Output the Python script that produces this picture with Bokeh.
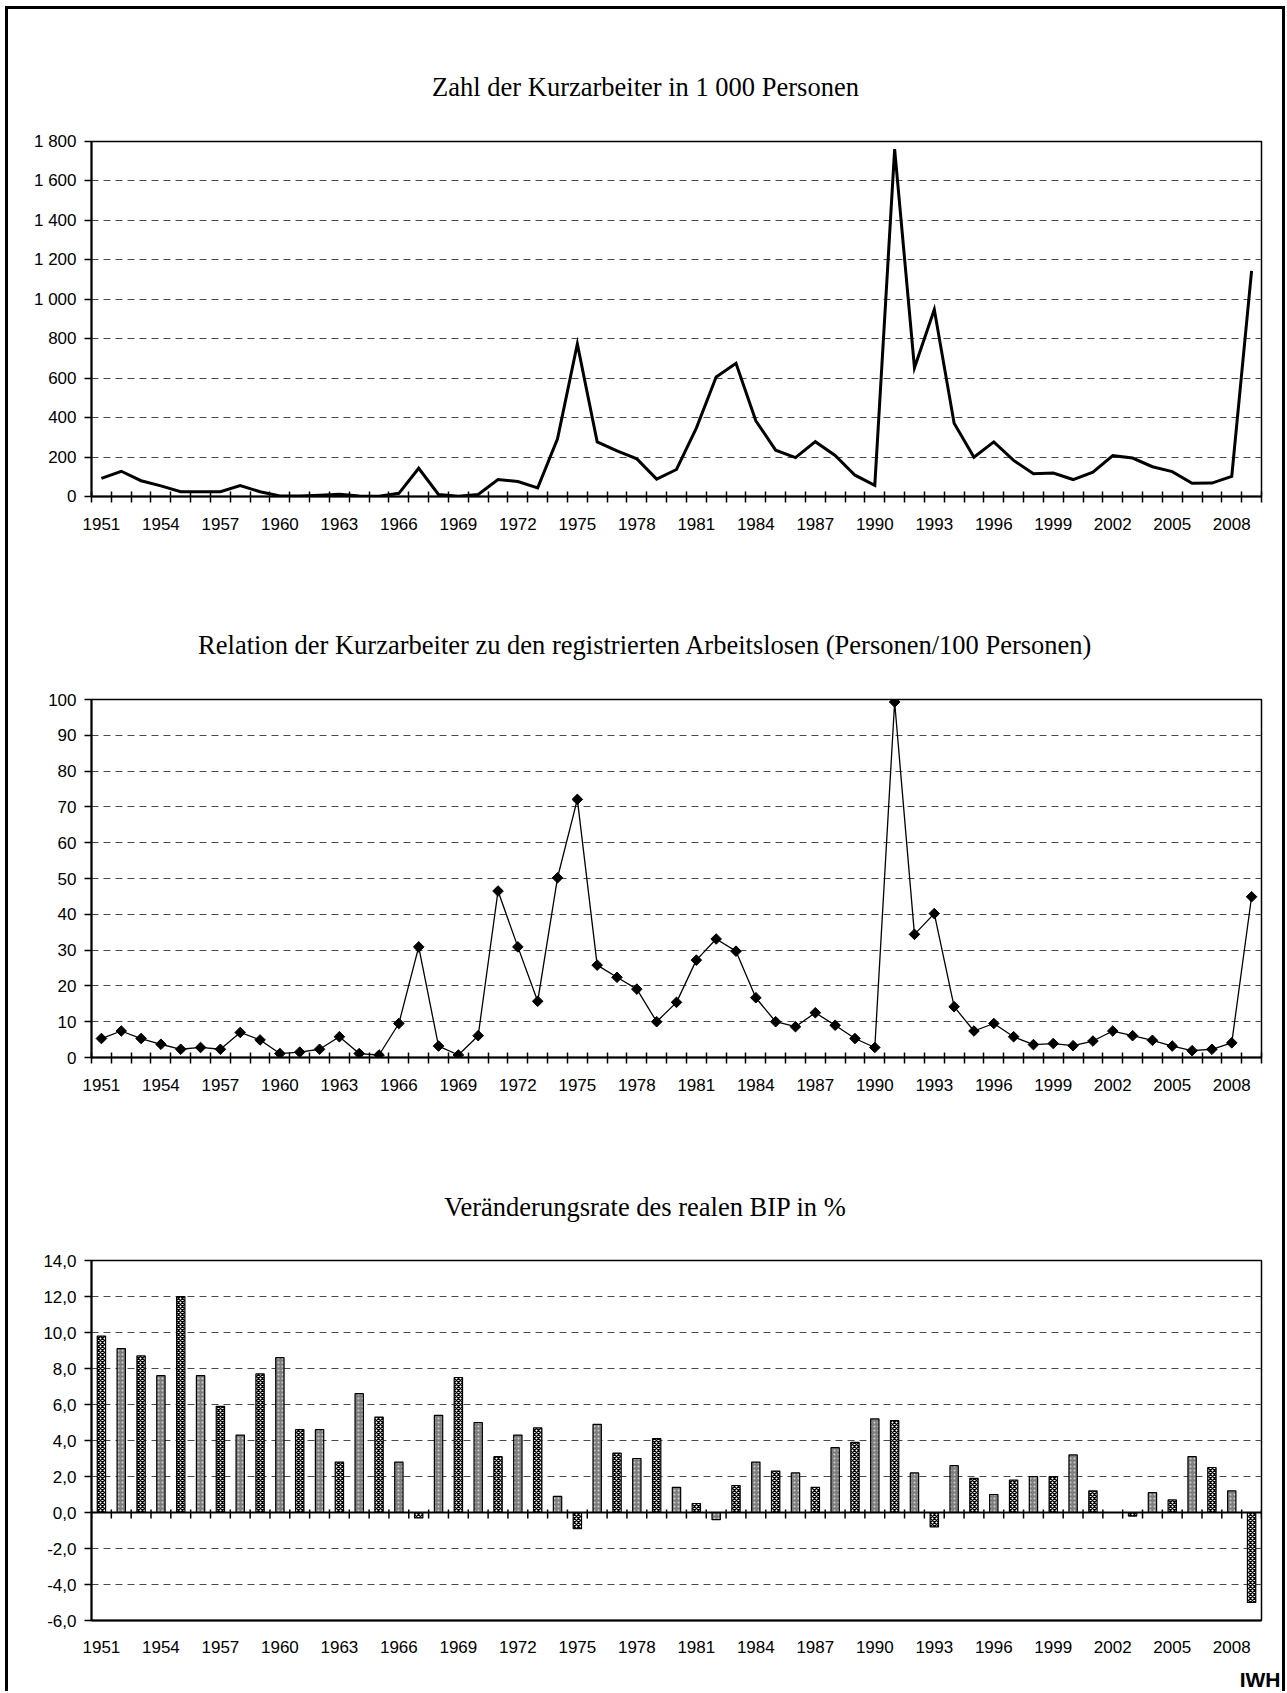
import math
from bokeh.plotting import figure
from bokeh.layouts import column
from bokeh.models import Range1d, FixedTicker, Span, Title
from bokeh.core.properties import value
from bokeh.embed import file_html
from bokeh.resources import INLINE

# ---------------- data ----------------
years = list(range(1951, 2010))

kurzarbeiter = [92, 128, 80, 54, 24, 24, 24, 55, 24, 3,
                3, 6, 11, 3, 1, 16, 143, 10, 1, 10,
                86, 76, 44, 292, 773, 277, 231, 191, 88, 137,
                347, 606, 675, 384, 235, 197, 278, 208, 108, 56,
                1761, 653, 948, 372, 199, 277, 183, 115, 119, 86,
                123, 207, 195, 151, 126, 67, 68, 102, 1144]

relation = [5.3, 7.4, 5.3, 3.7, 2.3, 2.8, 2.3, 7.0, 4.9, 1.1,
            1.5, 2.3, 5.8, 1.1, 0.7, 9.5, 30.9, 3.2, 0.7, 6.1,
            46.5, 30.9, 15.7, 50.2, 72.1, 25.8, 22.4, 19.1, 10.0, 15.4,
            27.2, 33.1, 29.7, 16.7, 10.0, 8.6, 12.5, 9.0, 5.3, 2.8,
            99.3, 34.4, 40.2, 14.2, 7.4, 9.5, 5.8, 3.6, 3.9, 3.3,
            4.6, 7.4, 6.1, 4.8, 3.2, 1.9, 2.3, 4.1, 44.9]

bip_growth = [9.8, 9.1, 8.7, 7.6, 12.0, 7.6, 5.9, 4.3, 7.7, 8.6,
              4.6, 4.6, 2.8, 6.6, 5.3, 2.8, -0.3, 5.4, 7.5, 5.0,
              3.1, 4.3, 4.7, 0.9, -0.9, 4.9, 3.3, 3.0, 4.1, 1.4,
              0.5, -0.4, 1.5, 2.8, 2.3, 2.2, 1.4, 3.6, 3.9, 5.2,
              5.1, 2.2, -0.8, 2.6, 1.9, 1.0, 1.8, 2.0, 2.0, 3.2,
              1.2, 0.0, -0.2, 1.1, 0.7, 3.1, 2.5, 1.2, -5.0]

x_tick_years = [1951, 1954, 1957, 1960, 1963, 1966, 1969, 1972, 1975, 1978,
                1981, 1984, 1987, 1990, 1993, 1996, 1999, 2002, 2005, 2008]
x_tick_labels = ["1951", "1954", "1957", "1960", "1963", "1966", "1969", "1972", "1975", "1978",
                 "1981", "1984", "1987", "1990", "1993", "1996", "1999", "2002", "2005", "2008"]

y1_ticks = [0, 200, 400, 600, 800, 1000, 1200, 1400, 1600, 1800]
y1_labels = ["0", "200", "400", "600", "800", "1 000", "1 200", "1 400", "1 600", "1 800"]
y2_ticks = [0, 10, 20, 30, 40, 50, 60, 70, 80, 90, 100]
y2_labels = ["0", "10", "20", "30", "40", "50", "60", "70", "80", "90", "100"]
y3_ticks = [-6, -4, -2, 0, 2, 4, 6, 8, 10, 12, 14]
y3_labels = ["-6,0", "-4,0", "-2,0", "0,0", "2,0", "4,0", "6,0", "8,0", "10,0", "12,0", "14,0"]

title1 = "Zahl der Kurzarbeiter in 1 000 Personen"
title2 = "Relation der Kurzarbeiter zu den registrierten Arbeitslosen (Personen/100 Personen)"
title3 = "Veränderungsrate des realen BIP in %"
source_text = "IWH"

# ---------------- layout (page pixels) ----------------
PX0 = 8           # page x of the figures' left edge (inside the border)
PY0 = 9           # page y of the first figure's top edge
W = 1274
FRAME_L, FRAME_R = 91, 1261
X0, X1 = years[0] - 0.5, years[-1] + 0.5
SANS = "Liberation Sans"
SERIF = "Liberation Serif"
TICK_SIZE = "17px"
TITLE_SIZE = "26.5px"


def text_strip(top, h, txt, page_x, page_y):
    """A blank strip (frame aligned with the charts) that only carries a centred title."""
    s = figure(width=W, height=h, x_range=Range1d(FRAME_L, FRAME_R), y_range=Range1d(0, h),
               output_backend="svg", toolbar_location=None,
               x_axis_type=None, y_axis_type=None,
               min_border_left=FRAME_L - PX0, min_border_right=PX0 + W - FRAME_R,
               min_border_top=0, min_border_bottom=0)
    s.outline_line_color = None
    s.background_fill_color = "white"
    s.border_fill_color = "white"
    s.text(x=[page_x], y=[top + h - page_y], text=[txt],
           text_align="center", text_baseline="middle",
           text_font=value(SERIF), text_font_size=value(TITLE_SIZE),
           text_color="black")
    return s


def make_fig(top, h, ftop, fbot, ymin, ymax, yticks, ylabels,
             crossing_xticks=True, label_standoff=15):
    p = figure(width=W, height=h, x_range=Range1d(X0, X1), y_range=Range1d(ymin, ymax),
               output_backend="svg", toolbar_location=None,
               min_border_left=FRAME_L - PX0, min_border_right=PX0 + W - FRAME_R,
               min_border_top=ftop - top, min_border_bottom=top + h - fbot)
    p.background_fill_color = "white"
    p.border_fill_color = "white"
    p.outline_line_color = "black"
    p.outline_line_width = 1.5

    yax = p.yaxis[0]
    yax.ticker = FixedTicker(ticks=yticks)
    yax.major_label_overrides = {t: l for t, l in zip(yticks, ylabels)}
    yax.major_label_text_font = SANS
    yax.major_label_text_font_size = TICK_SIZE
    yax.major_label_text_color = "black"
    yax.major_tick_in = 0
    yax.major_tick_out = 7
    yax.major_tick_line_width = 1.5
    yax.major_tick_line_color = "black"
    yax.minor_tick_line_color = None
    yax.axis_line_width = 2
    yax.axis_line_color = "black"
    yax.major_label_standoff = 8

    bounds = [y - 0.5 for y in years] + [years[-1] + 0.5]
    xax = p.xaxis[0]
    xax.ticker = FixedTicker(ticks=x_tick_years, minor_ticks=bounds if crossing_xticks else [])
    xax.major_label_overrides = {t: l for t, l in zip(x_tick_years, x_tick_labels)}
    xax.major_label_text_font = SANS
    xax.major_label_text_font_size = TICK_SIZE
    xax.major_label_text_color = "black"
    xax.major_tick_line_color = None
    xax.major_tick_in = 0
    xax.major_tick_out = 0
    if crossing_xticks:
        xax.minor_tick_in = 5
        xax.minor_tick_out = 6
        xax.minor_tick_line_width = 1.5
        xax.minor_tick_line_color = "black"
    else:
        xax.minor_tick_line_color = None
    xax.axis_line_width = 2
    xax.axis_line_color = "black"
    xax.major_label_standoff = label_standoff

    p.xgrid.visible = False
    p.ygrid.ticker = FixedTicker(ticks=[t for t in yticks if ymin < t < ymax and t != 0])
    p.ygrid.grid_line_color = "#4a4a4a"
    p.ygrid.grid_line_width = 1
    p.ygrid.grid_line_dash = "7 5"
    return p


# ---------- chart 1 ----------
S1T, S1H = PY0, 112
s1 = text_strip(S1T, S1H, title1, 645, 86.7)
T1, H1, FT1, FB1 = S1T + S1H, 439, 141, 496
p1 = make_fig(T1, H1, FT1, FB1, 0, 1800, y1_ticks, y1_labels, label_standoff=15)
p1.line(years, kurzarbeiter, line_color="black", line_width=3, line_join="miter")

# ---------- chart 2 ----------
S2T, S2H = T1 + H1, 120
s2 = text_strip(S2T, S2H, title2, 645, 644.7)
T2, H2, FT2, FB2 = S2T + S2H, 440, 699, 1057
p2 = make_fig(T2, H2, FT2, FB2, 0, 100, y2_ticks, y2_labels, label_standoff=15)
p2.line(years, relation, line_color="black", line_width=1.3)
p2.scatter(years, relation, marker="square", size=7.5, angle=math.pi / 4,
           fill_color="black", line_color="black")

# ---------- chart 3 ----------
S3T, S3H = T2 + H2, 120
s3 = text_strip(S3T, S3H, title3, 645, 1206.7)
T3, H3, FT3, FB3 = S3T + S3H, 425, 1260, 1620
p3 = make_fig(T3, H3, FT3, FB3, -6, 14, y3_ticks, y3_labels,
              crossing_xticks=False, label_standoff=20)
bar_w = 0.42
p3.vbar(x=years[0::2], top=bip_growth[0::2], bottom=0, width=bar_w,
        fill_color="white", line_color="black", line_width=1.2,
        hatch_pattern="x", hatch_color="black", hatch_scale=4, hatch_weight=1.4)
p3.vbar(x=years[1::2], top=bip_growth[1::2], bottom=0, width=bar_w,
        fill_color="#7e7e7e", line_color="black", line_width=1.2,
        hatch_pattern=".", hatch_color="#d0d0d0", hatch_scale=4, hatch_weight=1)
p3.add_layout(Span(location=0, dimension="width", line_color="black", line_width=2))
unit_per_px = (14 - (-6)) / (FB3 - FT3)
bounds3 = [y - 0.5 for y in years] + [years[-1] + 0.5]
p3.segment(x0=bounds3, y0=[3 * unit_per_px] * len(bounds3),
           x1=bounds3, y1=[-6 * unit_per_px] * len(bounds3),
           line_color="black", line_width=1.5)

# ---------- source note (IWH), as a right-aligned title in a thin strip ----------
S4T, S4H = T3 + H3, 26
s4 = figure(width=W, height=S4H, x_range=Range1d(0, 1), y_range=Range1d(0, 1),
            output_backend="svg", toolbar_location=None,
            x_axis_type=None, y_axis_type=None,
            min_border_left=FRAME_L - PX0, min_border_right=PX0 + W - FRAME_R,
            min_border_top=S4H - 2, min_border_bottom=0)
s4.outline_line_color = None
s4.background_fill_color = "white"
s4.border_fill_color = "white"
s4.title = Title(text=source_text, align="right", vertical_align="bottom",
                 offset=-(1280 - FRAME_R), standoff=0,
                 text_font=SANS, text_font_size="21px", text_font_style="bold",
                 text_color="black")

layout = column(s1, p1, s2, p2, s3, p3, s4, spacing=0,
                styles={"margin-left": "5px", "margin-top": "6px",
                        "border-top": "3px solid black", "border-left": "3px solid black",
                        "border-right": "3px solid black"})

open("out.html", "w").write(file_html(layout, INLINE))
